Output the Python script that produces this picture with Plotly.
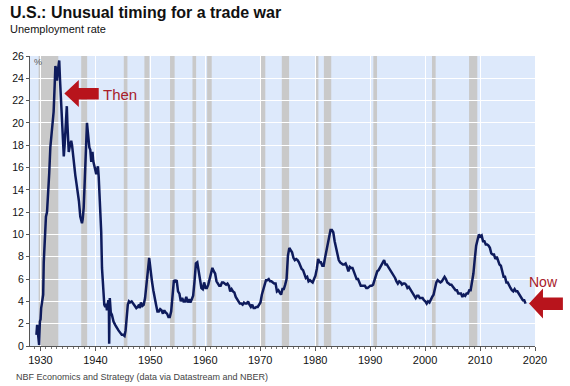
import plotly.graph_objects as go

# ---------------- data ----------------
# Early period (NBER monthly series)
early_years = [1929.27, 1929.40, 1929.50, 1929.62, 1929.76, 1929.90, 1930.02, 1930.13, 1930.30, 1930.50,
               1930.60, 1930.80, 1931.00, 1931.20, 1931.40, 1931.60, 1931.80, 1932.10, 1932.40, 1932.60,
               1932.72, 1932.85, 1933.00, 1933.15, 1933.30, 1933.42, 1933.55, 1933.70, 1933.85, 1934.00,
               1934.15, 1934.25, 1934.40, 1934.55, 1934.70, 1934.80, 1934.90, 1935.05, 1935.15, 1935.30,
               1935.45, 1935.60, 1935.75, 1935.90, 1936.05, 1936.20, 1936.35, 1936.55, 1936.75, 1937.00,
               1937.25, 1937.45, 1937.56, 1937.70, 1937.87, 1938.00, 1938.16, 1938.30, 1938.47, 1938.60,
               1938.78, 1938.90, 1939.07, 1939.25, 1939.35, 1939.47, 1939.60, 1939.75, 1939.87, 1940.00,
               1940.16, 1940.30, 1940.46, 1940.60, 1940.74, 1940.90, 1941.06, 1941.20, 1941.35, 1941.50,
               1941.62, 1941.80, 1941.95, 1942.10, 1942.20, 1942.35, 1942.46, 1942.51, 1942.56, 1942.62,
               1942.80, 1943.00, 1943.30, 1943.60, 1943.90, 1944.20, 1944.50, 1944.80, 1945.05, 1945.30,
               1945.50, 1945.70, 1945.90, 1946.10, 1946.30, 1946.60, 1946.90, 1947.20, 1947.45, 1947.70,
               1947.95]
early_rate = [1.0, 1.9, 1.4, 0.8, 0.1, 2.2, 2.4, 3.4, 3.8, 4.6,
              7.5, 10.0, 11.6, 12.0, 13.5, 15.5, 17.8, 19.2, 21.0, 23.5,
              25.1, 24.8, 23.8, 24.6, 25.3, 25.6, 24.0, 22.5, 21.3, 19.5,
              17.6, 17.0, 18.0, 19.5, 21.0, 21.5, 20.0, 18.2, 17.4, 17.8,
              18.2, 18.4, 18.0, 17.2, 16.8, 15.8, 15.3, 14.6, 14.0, 13.0,
              11.6, 11.1, 11.0, 11.4, 12.4, 14.0, 16.2, 18.5, 20.0, 19.3,
              18.3, 17.8, 17.6, 16.5, 17.0, 17.4, 16.6, 16.2, 16.0, 15.6,
              15.4, 15.8, 16.1, 15.2, 14.0, 12.2, 10.2, 7.0, 5.6, 4.2,
              3.7, 3.5, 3.8, 3.2, 3.8, 4.1, 3.2, 0.2, 2.5, 4.3,
              3.0, 2.8, 2.2, 1.9, 1.6, 1.4, 1.2, 1.0, 1.0, 0.9,
              1.4, 2.8, 3.7, 4.0, 3.9, 4.0, 3.8, 3.6, 3.4, 3.5,
              3.7]

# Post-war period (BLS), quarterly readings Jan/Apr/Jul/Oct
post_start = 1948
post_rate = [
    3.4, 3.9, 3.6, 3.7,   # 1948
    4.3, 5.3, 6.7, 7.9,   # 1949
    6.5, 5.8, 5.0, 4.2,   # 1950
    3.7, 3.1, 3.1, 3.3,   # 1951
    3.2, 2.9, 3.2, 3.0,   # 1952
    2.9, 2.6, 2.6, 3.1,   # 1953
    4.9, 5.9, 5.8, 5.9,   # 1954
    4.9, 4.7, 4.0, 4.3,   # 1955
    4.0, 4.0, 4.4, 3.9,   # 1956
    4.2, 3.9, 4.2, 4.5,   # 1957
    5.8, 7.4, 7.5, 6.7,   # 1958
    6.0, 5.2, 5.1, 5.7,   # 1959
    5.2, 5.2, 5.5, 6.1,   # 1960
    6.6, 7.0, 6.7, 6.5,   # 1961
    5.8, 5.6, 5.4, 5.4,   # 1962
    5.7, 5.7, 5.6, 5.5,   # 1963
    5.6, 5.4, 4.9, 5.1,   # 1964
    4.9, 4.8, 4.4, 4.2,   # 1965
    4.0, 3.8, 3.8, 3.7,   # 1966
    3.9, 3.8, 3.8, 4.0,   # 1967
    3.7, 3.5, 3.7, 3.4,   # 1968
    3.4, 3.5, 3.5, 3.7,   # 1969
    3.9, 4.6, 5.0, 5.5,   # 1970
    5.9, 5.9, 6.0, 5.8,   # 1971
    5.8, 5.7, 5.6, 5.6,   # 1972
    4.9, 5.0, 4.8, 4.6,   # 1973
    5.1, 5.1, 5.5, 6.0,   # 1974
    8.1, 8.8, 8.6, 8.4,   # 1975
    7.9, 7.7, 7.8, 7.7,   # 1976
    7.5, 7.2, 6.9, 6.8,   # 1977
    6.4, 6.1, 6.2, 5.8,   # 1978
    5.9, 5.8, 5.7, 6.0,   # 1979
    6.3, 6.9, 7.8, 7.5,   # 1980
    7.5, 7.2, 7.2, 7.9,   # 1981
    8.6, 9.3, 9.8, 10.4,  # 1982
    10.4, 10.2, 9.4, 8.8, # 1983
    8.0, 7.7, 7.5, 7.4,   # 1984
    7.3, 7.3, 7.4, 7.1,   # 1985
    6.7, 7.1, 7.0, 7.0,   # 1986
    6.6, 6.3, 6.0, 6.0,   # 1987
    5.7, 5.4, 5.4, 5.4,   # 1988
    5.4, 5.2, 5.2, 5.3,   # 1989
    5.4, 5.4, 5.5, 5.9,   # 1990
    6.4, 6.7, 6.8, 7.0,   # 1991
    7.3, 7.4, 7.7, 7.3,   # 1992
    7.3, 7.1, 6.9, 6.8,   # 1993
    6.6, 6.4, 6.1, 5.8,   # 1994
    5.6, 5.8, 5.7, 5.5,   # 1995
    5.6, 5.6, 5.5, 5.2,   # 1996
    5.3, 5.1, 4.9, 4.7,   # 1997
    4.6, 4.3, 4.5, 4.5,   # 1998
    4.3, 4.3, 4.3, 4.1,   # 1999
    4.0, 3.8, 4.0, 3.9,   # 2000
    4.2, 4.4, 4.6, 5.3,   # 2001
    5.7, 5.9, 5.8, 5.7,   # 2002
    5.8, 6.0, 6.2, 6.0,   # 2003
    5.7, 5.6, 5.5, 5.5,   # 2004
    5.3, 5.2, 5.0, 5.0,   # 2005
    4.7, 4.7, 4.7, 4.4,   # 2006
    4.6, 4.5, 4.7, 4.7,   # 2007
    5.0, 5.0, 5.8, 6.5,   # 2008
    7.8, 9.0, 9.5, 10.0,  # 2009
    9.8, 9.9, 9.4, 9.4,   # 2010
    9.1, 9.1, 9.0, 8.8,   # 2011
    8.3, 8.2, 8.2, 7.8,   # 2012
    8.0, 7.6, 7.3, 7.2,   # 2013
    6.6, 6.2, 6.2, 5.7,   # 2014
    5.7, 5.4, 5.2, 5.0,   # 2015
    4.9, 5.1, 4.9, 4.9,   # 2016
    4.7, 4.4, 4.3, 4.1,   # 2017
    4.1, 3.8,             # 2018
]
post_years = [post_start + 0.04 + i * 0.25 for i in range(len(post_rate))]

years = early_years + post_years
rate = early_rate + post_rate

# NBER recessions (start, end) in decimal years
recessions = [(1929.67, 1933.25), (1937.42, 1938.5), (1945.17, 1945.83), (1948.92, 1949.83),
              (1953.58, 1954.42), (1957.67, 1958.33), (1960.33, 1961.17), (1970.0, 1970.92),
              (1973.92, 1975.25), (1980.08, 1980.58), (1981.58, 1982.92), (1990.58, 1991.25),
              (2001.25, 2001.92), (2008.0, 2009.5)]

x_ticks = list(range(1930, 2021, 10))
y_ticks = list(range(0, 27, 2))

# ---------------- layout helpers ----------------
W, H = 570, 386
L, R, T, B = 28, 535, 56, 346   # plot area in pixels

def px(X):
    return (X - L) / (R - L)

def py(Y):
    return (B - Y) / (B - T)

def path(points):
    return "M " + " L ".join(f"{px(a):.5f},{py(b):.5f}" for a, b in points) + " Z"

FONT = "Liberation Sans, Arial, sans-serif"
RED = "#b8141c"

fig = go.Figure()
fig.add_trace(go.Scatter(x=years, y=rate, mode="lines",
                         line=dict(color="#0e1b5c", width=2.5),
                         hoverinfo="skip", showlegend=False))

shapes = []
for a, b in recessions:
    shapes.append(dict(type="rect", xref="x", yref="paper", x0=a, x1=b, y0=0, y1=1,
                       fillcolor="#c9c9c9", line=dict(width=0), layer="below"))

# block arrows
then_arrow = [(62.5, 93.5), (77, 80), (77, 88), (97, 88), (97, 99.5), (77, 99.5), (77, 107)]
now_arrow = [(529, 303.5), (543, 288.5), (543, 297.5), (563, 297.5), (563, 310), (543, 310), (543, 318.5)]
for arr in (then_arrow, now_arrow):
    shapes.append(dict(type="path", xref="paper", yref="paper", path=path(arr),
                       fillcolor=RED, line=dict(width=0), layer="above"))

annotations = [
    dict(text="<b>U.S.: Unusual timing for a trade war</b>", x=px(6), y=py(12.5),
         font=dict(size=16, color="#111111", family=FONT)),
    dict(text="Unemployment rate", x=px(6), y=py(29),
         font=dict(size=11, color="#111111", family=FONT)),
    dict(text="%", x=px(30), y=py(62), font=dict(size=9, color="#555555", family=FONT)),
    dict(text="Then", x=px(99), y=py(94), font=dict(size=15, color="#a8202a", family=FONT)),
    dict(text="Now", x=px(527), y=py(282), font=dict(size=14, color="#a8202a", family=FONT)),
    dict(text="NBF Economics and Strategy (data via Datastream and NBER)", x=px(12), y=py(377),
         font=dict(size=9, color="#444444", family=FONT)),
]
for a in annotations:
    a.update(xref="paper", yref="paper", xanchor="left", yanchor="middle", showarrow=False)

fig.update_layout(
    width=W, height=H,
    margin=dict(l=L, r=W - R, t=T, b=H - B, pad=0),
    paper_bgcolor="white", plot_bgcolor="#dde9fb",
    shapes=shapes, annotations=annotations,
    font=dict(family=FONT, size=11, color="#111111"),
    showlegend=False,
)
fig.update_xaxes(range=[1928.1, 2020], tickvals=x_ticks, ticktext=[str(v) for v in x_ticks],
                 showgrid=True, gridcolor="white", gridwidth=1,
                 showline=True, linecolor="#555555", linewidth=1,
                 ticks="outside", ticklen=4, tickcolor="#555555",
                 minor=dict(dtick=1, tick0=1930, ticks="outside", ticklen=2, tickcolor="#777777", showgrid=False),
                 tickfont=dict(size=11, family=FONT, color="#111111"), zeroline=False)
fig.update_yaxes(range=[0, 26], tickvals=y_ticks, showgrid=True, gridcolor="white", gridwidth=1,
                 showline=True, linecolor="#555555", linewidth=1,
                 ticks="outside", ticklen=3, tickcolor="#555555",
                 tickfont=dict(size=10.5, family=FONT, color="#111111"), zeroline=False)

fig.write_html("out.html", config={"displayModeBar": False, "staticPlot": True},
               post_script="document.body.style.margin='0';document.body.style.overflow='hidden';")
